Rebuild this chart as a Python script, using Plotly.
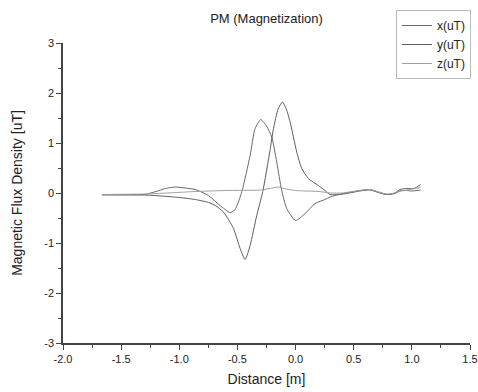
import plotly.graph_objects as go

# Series A (x component)
x_dist = [-1.665, -1.5, -1.3, -1.2, -1.12, -1.035, -0.95, -0.863, -0.749, -0.65, -0.563, -0.52,
          -0.462, -0.391, -0.348, -0.299, -0.248, -0.205, -0.162, -0.119, -0.076, 0.0, 0.082,
          0.168, 0.253, 0.296, 0.41, 0.554, 0.64, 0.726, 0.783, 0.855, 0.898, 0.955, 1.0, 1.075]
x_vals = [-0.03, -0.03, -0.03, 0.03, 0.09, 0.12, 0.10, 0.07, -0.05, -0.25, -0.39, -0.33,
          0.03, 0.75, 1.29, 1.47, 1.33, 1.12, 0.62, 0.05, -0.31, -0.55, -0.41,
          -0.21, -0.13, -0.08, -0.01, 0.05, 0.07, 0.01, -0.03, -0.01, 0.04, 0.05, 0.04, 0.06]

# Series B (y component)
y_dist = [-1.665, -1.5, -1.3, -1.15, -1.0, -0.863, -0.749, -0.69, -0.62, -0.534, -0.477, -0.434,
          -0.391, -0.334, -0.282, -0.22, -0.19, -0.15, -0.113, -0.08, -0.047, 0.01, 0.053, 0.11,
          0.196, 0.253, 0.296, 0.41, 0.554, 0.64, 0.726, 0.783, 0.855, 0.898, 0.955, 1.02, 1.075]
y_vals = [-0.04, -0.04, -0.04, -0.06, -0.09, -0.13, -0.19, -0.25, -0.38, -0.71, -1.11, -1.33,
          -1.05, -0.45, 0.03, 0.85, 1.29, 1.68, 1.82, 1.68, 1.42, 0.82, 0.49, 0.29,
          0.15, 0.05, -0.03, -0.02, 0.04, 0.06, 0.0, -0.03, 0.0, 0.07, 0.09, 0.09, 0.17]

# Series C (z component)
z_dist = [-1.665, -1.3, -1.1, -0.86, -0.6, -0.3, -0.2, -0.15, -0.1, 0.0, 0.2, 0.3, 0.4,
          0.554, 0.64, 0.726, 0.783, 0.855, 0.898, 0.955, 1.075]
z_vals = [-0.03, -0.02, 0.0, 0.03, 0.05, 0.06, 0.10, 0.12, 0.09, 0.05, 0.03, 0.0, 0.0,
          0.05, 0.07, 0.01, -0.02, 0.0, 0.04, 0.06, 0.11]

series_names = ["x(uT)", "y(uT)", "z(uT)"]

x_tick_vals = [-2.0, -1.5, -1.0, -0.5, 0.0, 0.5, 1.0, 1.5]
x_tick_text = ["-2.0", "-1.5", "-1.0", "-0.5", "0.0", "0.5", "1.0", "1.5"]
y_tick_vals = [-3, -2, -1, 0, 1, 2, 3]
y_tick_text = ["-3", "-2", "-1", "0", "1", "2", "3"]

fig = go.Figure()
specs = [(x_dist, x_vals, "#6a6a6a"), (y_dist, y_vals, "#5e5e5e"), (z_dist, z_vals, "#a0a0a0")]
for name, (d, v, c) in zip(series_names, specs):
    fig.add_trace(go.Scatter(x=d, y=v, mode="lines", name=name,
                             line=dict(color=c, width=1, shape="spline", smoothing=0.6)))

font_family = "Liberation Sans, Arial, sans-serif"
fig.update_layout(
    width=478, height=392,
    margin=dict(l=63, r=8, t=43, b=49, autoexpand=False),
    paper_bgcolor="white", plot_bgcolor="white",
    font=dict(family=font_family, color="#222", size=11),
    title=dict(text="PM (Magnetization)", x=0.5, xref="paper", y=1 - 18 / 392,
               yref="container", xanchor="center", yanchor="middle",
               font=dict(size=13, color="#222")),
    legend=dict(x=0.818, y=1.11, xref="paper", yref="paper", xanchor="left", yanchor="top",
                bordercolor="#bbbbbb", borderwidth=1, bgcolor="white",
                font=dict(size=12, color="#222"), itemwidth=30,
                tracegroupgap=0),
    showlegend=True,
)
fig.update_xaxes(range=[-2, 1.5], tickvals=x_tick_vals, ticktext=x_tick_text,
                 ticks="outside", ticklen=5, tickwidth=1, tickcolor="#444",
                 minor=dict(dtick=0.25, tick0=-2, ticks="outside", ticklen=3, tickcolor="#444"),
                 showline=True, linecolor="#444", linewidth=1.5, showgrid=False, zeroline=False,
                 title=dict(text="Distance [m]", font=dict(size=14), standoff=10))
fig.update_yaxes(range=[-3, 3], tickvals=y_tick_vals, ticktext=y_tick_text,
                 ticks="outside", ticklen=5, tickwidth=1, tickcolor="#444",
                 minor=dict(dtick=0.5, tick0=0, ticks="outside", ticklen=3, tickcolor="#444"),
                 showline=True, linecolor="#444", linewidth=1.5, showgrid=False, zeroline=False,
                 title=dict(text="Magnetic Flux Density [uT]", font=dict(size=14), standoff=18))

fig.write_html("out.html", config={"displayModeBar": False},
               post_script="document.body.style.margin='0';document.body.style.overflow='hidden';")
